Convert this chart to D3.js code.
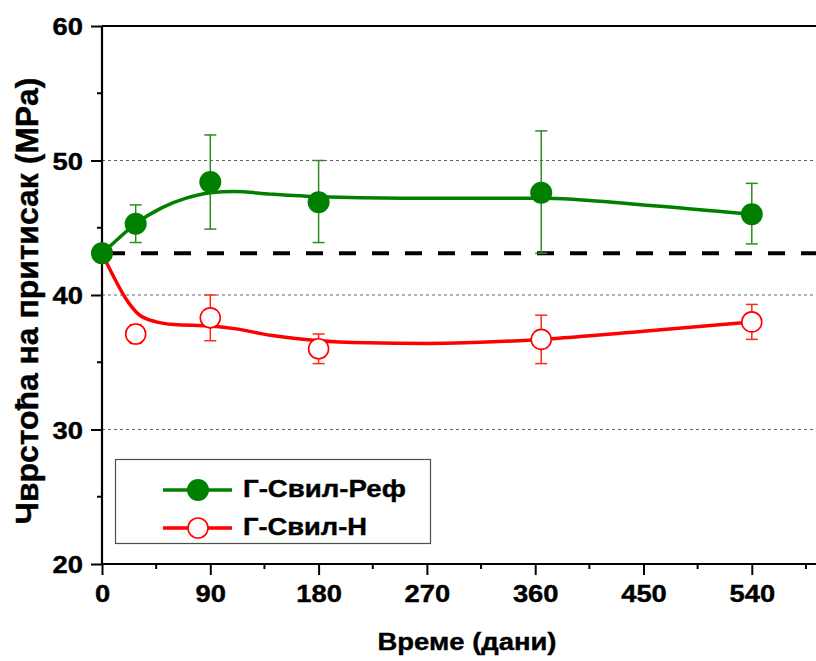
<!DOCTYPE html>
<html><head><meta charset="utf-8">
<script src="https://cdn.jsdelivr.net/npm/d3@7"></script>
<style>body{margin:0;background:#fff}svg{display:block}text{font-family:"Liberation Sans",Arial,sans-serif;font-weight:bold;stroke:#000;stroke-width:0.4px}</style>
</head><body>
<script>
const days = [0, 28, 90, 180, 365, 540];
const refMean = [43.1, 45.3, 48.4, 46.9, 47.6, 46.0];
const refLow  = [43.1, 43.9, 44.9, 43.9, 43.1, 43.8];
const refHigh = [43.1, 46.7, 51.9, 50.0, 52.2, 48.3];
const nMean = [43.1, 37.1, 38.3, 36.0, 36.7, 38.0];
const nLow  = [43.1, 36.4, 36.6, 34.9, 34.9, 36.7];
const nHigh = [43.1, 37.8, 40.0, 37.1, 38.5, 39.3];
const fitDays = [0, 10, 28, 50, 70, 90, 110, 140, 180, 250, 365, 450, 540];
const refFit = [43.1, 43.9, 45.3, 46.5, 47.2, 47.6, 47.7, 47.5, 47.3, 47.2, 47.2, 46.7, 46.0];
const fitDaysN = [0, 10, 20, 30, 45, 60, 90, 110, 140, 180, 220, 270, 365, 450, 540];
const nFit = [43.1, 41.3, 39.7, 38.6, 38.0, 37.8, 37.7, 37.5, 37.0, 36.6, 36.45, 36.4, 36.7, 37.3, 38.0];
const baseline = 43.1;
const xTicks = [0, 90, 180, 270, 360, 450, 540];
const yTicks = [20, 30, 40, 50, 60];
const gridVals = [30, 40, 50];
const seriesNames = ["Г-Свил-Реф", "Г-Свил-Н"];

const W = 816, H = 661;
const svg = d3.select("body").append("svg").attr("width", W).attr("height", H);
const x = d3.scaleLinear().domain([0, 600]).range([102, 824]);
const y = d3.scaleLinear().domain([20, 60]).range([564, 26]);
const GREEN = "#008000", RED = "#ff0000";
const FS = 24, STRETCH = 1.14;
function stretch(sel, f) {
  sel.each(function () {
    const w = this.getComputedTextLength();
    d3.select(this).attr("textLength", w * f).attr("lengthAdjust", "spacingAndGlyphs");
  });
}
// place text at (tx,ty) scaled horizontally to a target width
function fitText(txt, tx, ty, target, size, anchor) {
  const t = svg.append("text").attr("font-size", size).attr("text-anchor", anchor || "start").text(txt);
  const w = t.node().getBBox().width;
  t.attr("transform", `translate(${tx},${ty}) scale(${target / w},1)`);
  return t;
}

// grid
svg.selectAll(".grid").data(gridVals).enter().append("line")
  .attr("x1", x(0)).attr("x2", W).attr("y1", d => y(d)).attr("y2", d => y(d))
  .attr("stroke", "#666").attr("stroke-width", 1).attr("stroke-dasharray", "3,3");

// baseline dashed
svg.append("line").attr("x1", x(0)).attr("x2", W).attr("y1", y(baseline)).attr("y2", y(baseline))
  .attr("stroke", "#000").attr("stroke-width", 4).attr("stroke-dasharray", "17,16").attr("stroke-dashoffset", -6);

// axes
const xAxis = d3.axisBottom(x).tickValues(xTicks).tickSize(11).tickPadding(10);
const gx = svg.append("g").attr("transform", `translate(0,${y(20)})`).call(xAxis);
const yAxis = d3.axisLeft(y).tickValues(yTicks).tickSize(11).tickPadding(8);
const gy = svg.append("g").attr("transform", `translate(${x(0)},0)`).call(yAxis);
[gx, gy].forEach(g => {
  g.select(".domain").attr("stroke", "#000").attr("stroke-width", 2.2);
  g.selectAll(".tick line").attr("stroke", "#000").attr("stroke-width", 2);
  g.selectAll(".tick text").attr("font-size", FS).attr("font-family", '"Liberation Sans",Arial,sans-serif')
    .attr("font-weight", "bold").attr("fill", "#000").call(stretch, STRETCH);
});
gy.selectAll(".tick text").attr("dy", "0.36em");
gx.select(".domain").attr("d", `M${x(0)},0H${W}`);
gy.select(".domain").attr("d", `M0,${y(20)}V${y(60)}`);
// minor ticks
const xMinor = xTicks.map(d => d + 45);
gx.selectAll(".minor").data(xMinor).enter().append("line")
  .attr("x1", d => x(d)).attr("x2", d => x(d)).attr("y1", 0).attr("y2", 5)
  .attr("stroke", "#000").attr("stroke-width", 2);
const yMinor = [25, 35, 45, 55];
gy.selectAll(".minor").data(yMinor).enter().append("line")
  .attr("y1", d => y(d)).attr("y2", d => y(d)).attr("x1", 0).attr("x2", -5)
  .attr("stroke", "#000").attr("stroke-width", 2);
// top axis line
svg.append("line").attr("x1", x(0)).attr("x2", W).attr("y1", y(60)).attr("y2", y(60))
  .attr("stroke", "#000").attr("stroke-width", 2.2);

// fitted curves
const line = d3.line().x(d => x(d[0])).y(d => y(d[1])).curve(d3.curveMonotoneX);
svg.append("path").attr("d", line(fitDaysN.map((d, i) => [d, nFit[i]])))
  .attr("fill", "none").attr("stroke", RED).attr("stroke-width", 3.5);
svg.append("path").attr("d", line(fitDays.map((d, i) => [d, refFit[i]])))
  .attr("fill", "none").attr("stroke", GREEN).attr("stroke-width", 3.5);

// error bars
function errBars(low, high, color) {
  const g = svg.append("g").attr("stroke", color).attr("stroke-width", 1.5);
  days.forEach((d, i) => {
    if (high[i] - low[i] <= 0) return;
    g.append("line").attr("x1", x(d)).attr("x2", x(d)).attr("y1", y(low[i])).attr("y2", y(high[i]));
    [low[i], high[i]].forEach(v => g.append("line").attr("x1", x(d) - 6).attr("x2", x(d) + 6).attr("y1", y(v)).attr("y2", y(v)));
  });
}
errBars(nLow, nHigh, "#ff2a10");
errBars(refLow, refHigh, "#2e8b22");

// points
svg.selectAll(".np").data(days).enter().append("circle")
  .attr("cx", d => x(d)).attr("cy", (d, i) => y(nMean[i])).attr("r", 10)
  .attr("fill", "#fff").attr("stroke", RED).attr("stroke-width", 1.6);
svg.selectAll(".rp").data(days).enter().append("circle")
  .attr("cx", d => x(d)).attr("cy", (d, i) => y(refMean[i])).attr("r", 11)
  .attr("fill", GREEN);

// legend
svg.append("rect").attr("x", 115.5).attr("y", 459.5).attr("width", 315).attr("height", 84)
  .attr("fill", "#fff").attr("stroke", "#445544").attr("stroke-width", 1.2);
const leg = [{c: GREEN, fill: GREEN, y: 490, r: 11, len: 163}, {c: RED, fill: "#fff", y: 528, r: 10, len: 124}];
leg.forEach((L, i) => {
  svg.append("line").attr("x1", 163).attr("x2", 232).attr("y1", L.y).attr("y2", L.y)
    .attr("stroke", L.c).attr("stroke-width", 3.5);
  svg.append("circle").attr("cx", 198).attr("cy", L.y).attr("r", L.r)
    .attr("fill", L.fill).attr("stroke", L.c).attr("stroke-width", i ? 1.6 : 0);
  fitText(seriesNames[i], 243, L.y + 7, L.len, FS, "start");
});

// axis titles
fitText("Време (дани)", 467, 650, 179, FS, "middle");
svg.append("text").attr("transform", "translate(38,301) rotate(-90)").attr("text-anchor", "middle")
  .attr("font-size", 31).attr("textLength", 447).attr("lengthAdjust", "spacingAndGlyphs")
  .text("Чврстоћа на притисак (MPa)");
</script>
</body></html>
